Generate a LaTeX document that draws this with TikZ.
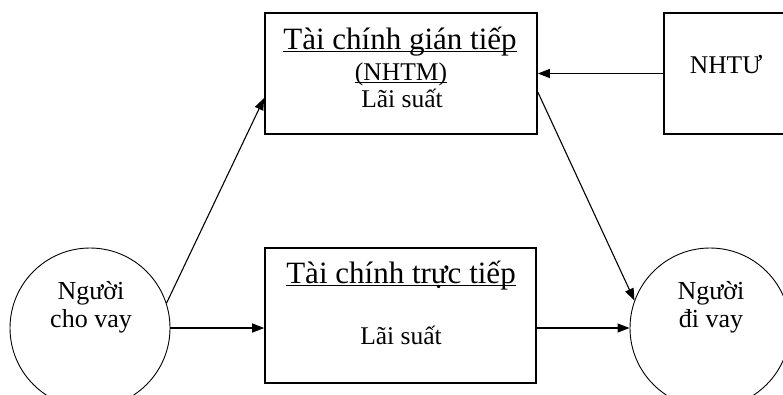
\documentclass[tikz,border=0pt]{standalone}
\usepackage{fontspec}
\setmainfont{Liberation Serif}
\usetikzlibrary{arrows.meta,calc}
\newcommand\myul[1]{\setbox0\hbox{#1}\rlap{\rule[-3pt]{\wd0}{1.3pt}}\box0}
\begin{document}
\begin{tikzpicture}[x=1pt,y=-1pt,
  boxnode/.style={draw,line width=1.6pt,inner sep=0pt},
  person/.style={draw,circle,line width=0.9pt,minimum size=160pt,inner sep=0pt},
  conn/.style={line width=1.1pt,-{Triangle[length=12pt,width=9pt]}},
  txt/.style={anchor=base,inner sep=0pt,font=\fontsize{25.5}{28}\selectfont},
  ptxt/.style={anchor=base,inner sep=0pt,font=\fontsize{26}{28}\selectfont},
  ttl/.style={anchor=base,inner sep=0pt,font=\fontsize{31}{34}\selectfont}]
\useasboundingbox (0,0) rectangle (783,394);
\clip (0,0) rectangle (783,394);
% boxes
\node[boxnode,minimum width=272pt,minimum height=121pt] (ind) at (401,73.5) {};
\node[boxnode,minimum width=271pt,minimum height=135pt] (dir) at (400.5,315.5) {};
\node[boxnode,minimum width=124pt,minimum height=121pt] (nhtu) at (726,73.5) {};
% circles
\node[person] (lend) at (90,328) {};
\node[person] (bor) at (710,328) {};
% texts
\node[ttl] (indttl) at (400,49) {\myul{Tài chính gián tiếp}};
\node[txt] (indsub) at (401,80) {\myul{(NHTM)}};
\node[txt] (indrate) at (402,107) {Lãi suất};
\node[ttl] (dirttl) at (401,283) {\myul{Tài chính trực tiếp}};
\node[txt] (dirrate) at (401,344) {Lãi suất};
\node[txt] (nhtutxt) at (726,73) {NHTƯ};
\node[ptxt] (lend1) at (91,299) {Người};
\node[ptxt] (lend2) at (91,327) {cho vay};
\node[ptxt] (bor1) at (711,299) {Người};
\node[ptxt] (bor2) at (711,327) {đi vay};
% connectors
\draw[conn] (lend.18) -- ($(ind.west)+(0,24.5)$);
\draw[conn] (lend.east) -- (lend.east -| dir.west);
\draw[conn] (bor.west -| dir.east) -- (bor.west);
\draw[conn] ($(ind.east)+(0,18.5)$) -- (bor.160);
\draw[conn] (nhtu.west) -- (nhtu.west -| ind.east);
\end{tikzpicture}
\end{document}
